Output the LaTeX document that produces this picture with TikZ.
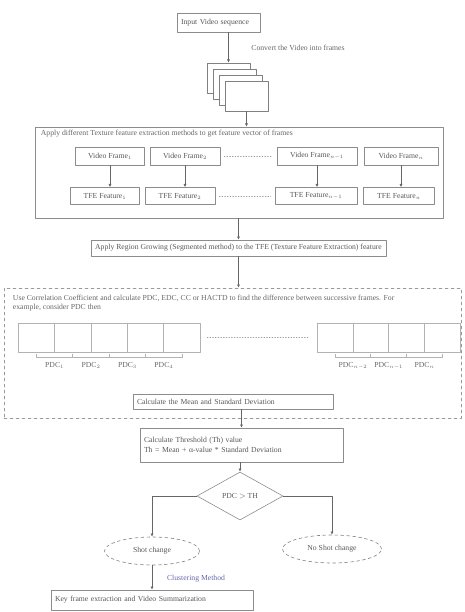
\documentclass[tikz,border=0pt]{standalone}
\usepackage{fontspec}
\setmainfont{Liberation Serif}
\usetikzlibrary{arrows.meta,shapes.geometric}

\begin{document}
\begin{tikzpicture}[
  x=1pt, y=-1pt,
  line cap=round,
  line join=round,
  font=\fontsize{7.7}{9.5}\selectfont,
  box/.style={draw=black!45, line width=0.6pt, fill=white, text=black!65, inner sep=2pt, align=left},
  page/.style={draw=black!50, line width=0.6pt, fill=white, minimum width=43pt, minimum height=30pt, inner sep=0pt},
  cell/.style={draw=black!30, line width=0.5pt, minimum height=29pt, inner sep=0pt},
  arr/.style={-{Latex[length=3.2pt,width=3pt]}, draw=black!60, line width=0.6pt},
  dotline/.style={draw=black!40, dotted, line width=0.7pt},
  brk/.style={draw=black!30, line width=0.5pt},
  region/.style={draw=black!40, dashed, line width=0.5pt},
  oval/.style={ellipse, draw=black!50, dashed, line width=0.6pt, text=black!65, inner sep=1pt},
  lbl/.style={text=black!60, inner sep=1pt}
]

\useasboundingbox (0,0) rectangle (464,612);

\def\rowA{156}
\def\rowB{196}

% Input and frame stack.
\node[box, minimum width=83pt, minimum height=19pt, text width=75pt] (input) at (218.5,22.5) {Input Video sequence};
\foreach \k in {0,...,3}{
  \node[page] (pg\k) at ({228.5+6*\k},{78+6*\k}) {};
}
\draw[arr] (pg0.north |- input.south) -- (pg0.north);
\node[lbl] (convert) at (298,48) {Convert the Video into frames};

% Texture feature extraction block.
\node[box, minimum width=408pt, minimum height=91pt] (tex) at (239,172.5) {};
\node[lbl, anchor=north west] (textitle) at ([xshift=5pt,yshift=-2pt]tex.north west)
  {Apply different Texture feature extraction methods to get feature vector of frames};
\draw[arr] (pg3.south) -- (pg3.south |- tex.north);

\node[box, minimum width=69pt, minimum height=18pt] (vf1) at (110,\rowA) {Video Frame$_1$};
\node[box, minimum width=70pt, minimum height=18pt] (vf2) at (185,\rowA) {Video Frame$_2$};
\node[box, minimum width=80pt, minimum height=18pt] (vf3) at (317,\rowA) {Video Frame$_{n-1}$};
\node[box, minimum width=74pt, minimum height=18pt] (vf4) at (401,\rowA) {Video Frame$_n$};

\node[box, minimum width=69pt, minimum height=17pt] (tf1) at (105,\rowB) {TFE Feature$_1$};
\node[box, minimum width=70pt, minimum height=17pt] (tf2) at (180,\rowB) {TFE Feature$_2$};
\node[box, minimum width=82pt, minimum height=17pt] (tf3) at (316,\rowB) {TFE Feature$_{n-1}$};
\node[box, minimum width=71pt, minimum height=17pt] (tf4) at (399,\rowB) {TFE Feature$_n$};

\foreach \i in {1,...,4}{
  \draw[arr] (vf\i.south) -- (vf\i.south |- tf\i.north);
}
\draw[dotline, shorten <=4pt, shorten >=4pt] (vf2) -- (vf3);
\draw[dotline, shorten <=4pt, shorten >=4pt] (tf2) -- (tf3);

% Region growing.
\node[box, minimum width=295pt, minimum height=16pt] (grow) at (238.5,248)
  {Apply Region Growing (Segmented method) to the TFE (Texture Feature Extraction) feature};
\draw[arr] (tex.south -| grow.north) -- (grow.north);

% Frame differences.
\node[region, minimum width=457pt, minimum height=130pt, inner sep=0pt] (diff) at (232.5,353) {};
\draw[arr] (grow.south) -- (grow.south |- diff.north);
\node[lbl, anchor=north west, align=left] (difftext) at ([xshift=8pt,yshift=-6pt]diff.north west)
  {Use Correlation Coefficient and calculate PDC, EDC, CC or HACTD to find the difference between successive frames. For\\
   example, consider PDC then};

\foreach \i in {1,...,5}{
  \node[cell, minimum width=36.4pt] (fl\i) at ({18+36.4*(\i-0.5)},337.5) {};
}
\foreach \i in {1,...,4}{
  \node[cell, minimum width=35.75pt] (fr\i) at ({317+35.75*(\i-0.5)},337.5) {};
}
\foreach \i/\j in {1/2,2/3,3/4,4/5}{
  \draw[brk] ([yshift=-2pt]fl\i.south) |- ([yshift=-5pt]fl\j.south) -- ([yshift=-2pt]fl\j.south);
  \node[lbl, below=9pt] (pl\i) at (fl\i.south east) {PDC$_\i$};
}
\foreach \i/\j/\s in {1/2/{n-2},2/3/{n-1},3/4/n}{
  \draw[brk] ([yshift=-2pt]fr\i.south) |- ([yshift=-5pt]fr\j.south) -- ([yshift=-2pt]fr\j.south);
  \node[lbl, below=9pt] (pr\i) at (fr\i.south east) {PDC$_{\s}$};
}
\draw[dotline, shorten <=7pt, shorten >=7pt] (fl5) -- (fr1);

% Threshold.
\node[box, minimum width=200pt, minimum height=15pt, text width=192pt] (mean) at (233,401.5)
  {Calculate the Mean and Standard Deviation};
\node[box, minimum width=203pt, minimum height=34pt, text width=195pt] (thr) at (241.5,445)
  {Calculate Threshold (Th) value\\Th = Mean + α-value * Standard Deviation};
\draw[arr] (thr.north |- mean.south) -- (thr.north);

% Decision.
\node[diamond, draw=black!45, line width=0.6pt, text=black!65, minimum width=86pt, minimum height=48pt, inner sep=0pt] (dec) at (240,496) {PDC $>$ TH};
\draw[arr] (dec.north |- thr.south) -- (dec.north);

\node[oval, minimum width=95pt, minimum height=28pt] (shot) at (152,551) {Shot change};
\node[oval, minimum width=99pt, minimum height=28pt] (noshot) at (332,549) {No Shot change};
\draw[arr] (dec.west) -| (shot.north);
\draw[arr] (dec.east) -| (noshot.north);

% Key frames.
\node[box, minimum width=202pt, minimum height=20pt, text width=194pt] (key) at (152,600)
  {Key frame extraction and Video Summarization};
\draw[arr] (shot.south) -- (key.north);
\node[lbl, text=blue!45!black!60] (cluster) at (196,579) {Clustering Method};

\end{tikzpicture}
\end{document}
